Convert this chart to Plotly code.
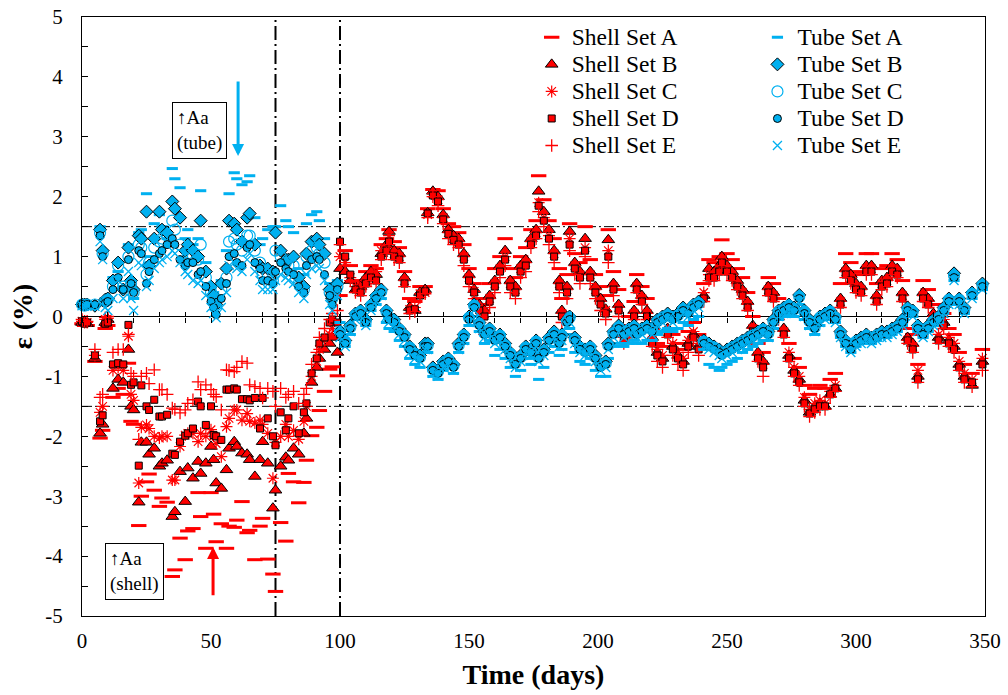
import plotly.graph_objects as go

# ---------------- data ----------------
DAYS = [
    0, 1, 2, 5, 7, 8, 9, 10, 12, 14,
    16, 18, 19, 20, 22, 23, 25, 26, 28, 30,
    31, 33, 35, 36, 38, 40, 41, 43, 45, 46,
    48, 50, 51, 52, 54, 56, 57, 59, 60, 62,
    64, 65, 67, 69, 70, 72, 74, 75, 77, 79,
    80, 82, 84, 86, 87, 89, 91, 92, 94, 96,
    97, 99, 100, 102, 104, 106, 108, 110, 112, 114,
    116, 118, 119, 121, 123, 125, 127, 129, 131, 133,
    134, 136, 138, 140, 142, 144, 146, 148, 150, 152,
    154, 156, 158, 160, 162, 164, 166, 168, 170, 172,
    174, 176, 177, 179, 181, 183, 185, 186, 188, 189,
    191, 193, 195, 197, 199, 201, 203, 204, 206, 208,
    210, 212, 214, 215, 217, 219, 221, 223, 225, 227,
    229, 231, 233, 235, 237, 239, 241, 243, 245, 247,
    248, 250, 252, 254, 256, 258, 260, 262, 264, 266,
    268, 270, 272, 274, 276, 278, 280, 282, 284, 286,
    288, 290, 292, 294, 296, 298, 300, 302, 304, 306,
    308, 310, 312, 314, 316, 318, 320, 322, 324, 326,
    328, 330, 332, 334, 336, 338, 340, 342, 345, 349,
]

SHELL_A = [
    -0.12, -0.15, -0.15, -0.75, -2.03, -1.9, -0.2, -0.15, -1.35, -1.2,
    -1.3, -0.78, -1.75, -1.8, -3.49, -3.0, -2.76, -2.63, -2.9, -3.17,
    -3.03, -3.1, -4.34, -4.23, -3.7, -4.06, -3.58, -3.54, -2.94, -3.34,
    -3.87, -2.94, -3.3, -3.76, -3.46, -3.87, -3.5, -3.52, -3.4, -3.09,
    -3.61, -3.57, -4.06, -3.5, -3.37, -4.05, -4.3, -4.59, -3.44, -3.75,
    -2.62, -2.76, -3.11, -2.77, -2.4, -1.99, -1.85, -1.57, -1.25, -0.88,
    -0.84, -0.99, 0.35, 1.1, 0.85, 0.6, 0.55, 0.75, 0.85, 0.8,
    1.2, 1.3, 1.45, 1.25, 1.15, 0.75, 0.3, 0.25, 0.5, 0.5,
    1.8, 2.12, 2.1, 1.8, 1.55, 1.5, 1.4, 1.2, 0.8, 0.55,
    0.3, 0.2, 0.55, 0.8, 1.0, 1.3, 0.8, 0.65, 1.0, 1.15,
    1.45, 1.6, 2.35, 1.95, 1.6, 1.3, 0.8, 0.3, 0.7, 1.55,
    1.05, 0.9, 1.5, 0.95, 0.7, 0.5, 0.35, 1.45, 0.75, 0.45,
    -0.15, 0.0, 0.25, 0.7, 0.5, 0.3, -0.2, -0.45, -0.5, 0.0,
    -0.3, -0.45, -0.55, -0.25, -0.1, -0.3, 0.55, 0.95, 0.9, 1.0,
    1.28, 1.05, 0.95, 0.8, 0.65, 0.4, 0.0, -0.45, -0.6, 0.65,
    0.55, 0.3, 0.0, -0.45, -0.7, -0.85, -1.15, -1.3, -1.2, -1.15,
    -1.2, -1.05, -0.95, 0.55, 1.05, 0.9, 0.75, 0.7, 1.05, 1.05,
    0.55, 0.8, 0.85, 1.05, 0.95, 0.6, -0.2, -0.3, -0.8, 0.6,
    0.45, 0.2, -0.15, 0.05, -0.2, -0.3, -0.6, -0.8, -0.95, -0.55,
]
SHELL_B = [
    -0.1, -0.1, -0.12, -0.7, -1.95, -1.8, -0.1, -0.05, -1.2, -1.05,
    -1.1, -0.55, -1.5, -1.56, -3.1, -2.1, -2.1, -2.3, -2.2, -2.5,
    -2.45, -2.4, -3.34, -3.26, -2.59, -3.09, -2.53, -2.7, -2.42, -2.62,
    -2.45, -2.17, -2.39, -2.78, -2.87, -2.56, -2.2, -2.09, -2.17, -2.28,
    -2.3, -2.39, -2.67, -2.39, -2.09, -2.45, -3.2, -2.9, -2.5, -2.35,
    -2.4, -2.2, -2.3, -1.95, -1.7, -1.1, -0.85, -0.7, -0.55, -0.45,
    -0.35, -0.6, 0.8, 0.75, 0.6, 0.45, 0.5, 0.65, 0.75, 0.7,
    1.05, 1.2, 1.42, 1.1, 1.05, 0.65, 0.15, 0.1, 0.4, 0.45,
    1.73, 2.09, 2.0, 1.7, 1.45, 1.35, 1.3, 1.05, 0.7, 0.45,
    0.2, 0.1, 0.35, 0.6, 0.85, 1.1, 0.6, 0.5, 0.85, 0.95,
    1.3, 1.45, 2.09, 1.75, 1.45, 1.1, 0.6, 0.1, 0.5, 1.42,
    0.9, 0.75, 1.3, 0.75, 0.5, 0.3, 0.12, 1.28, 0.55, 0.2,
    -0.3, -0.2, 0.1, 0.55, 0.35, 0.1, -0.35, -0.6, -0.7, -0.2,
    -0.5, -0.65, -0.75, -0.45, -0.3, -0.5, 0.35, 0.8, 0.75, 0.85,
    1.0, 0.85, 0.75, 0.6, 0.45, 0.25, -0.15, -0.6, -0.75, 0.5,
    0.4, 0.1, -0.2, -0.65, -0.9, -1.05, -1.4, -1.6, -1.5, -1.45,
    -1.5, -1.3, -1.2, 0.3, 0.8, 0.7, 0.55, 0.5, 0.85, 0.85,
    0.35, 0.6, 0.65, 0.85, 0.8, 0.4, -0.35, -0.45, -1.0, 0.4,
    0.3, 0.05, -0.35, -0.1, -0.4, -0.5, -0.8, -1.0, -1.15, -0.75,
]
SHELL_C = [
    -0.08, -0.1, -0.1, -0.65, -1.6, -1.5, -0.05, -0.03, -0.9, -0.85,
    -0.9, -0.33, -1.3, -1.4, -2.78, -1.85, -1.81, -1.87, -2.0, -2.03,
    -2.0, -2.0, -2.73, -2.73, -2.17, -1.98, -1.95, -1.95, -2.09, -1.95,
    -2.0, -1.89, -2.0, -2.12, -2.34, -1.84, -1.7, -1.56, -1.56, -1.73,
    -1.62, -1.75, -1.78, -1.73, -1.8, -1.95, -2.7, -2.1, -2.0, -1.8,
    -2.0, -1.9, -2.05, -1.75, -1.5, -1.0, -0.75, -0.55, -0.4, -0.3,
    -0.2, -0.3, 1.0, 0.9, 0.65, 0.5, 0.45, 0.6, 0.7, 0.75,
    1.1, 1.15, 1.35, 1.05, 1.0, 0.6, 0.12, 0.15, 0.38, 0.4,
    1.7, 2.05, 1.95, 1.65, 1.4, 1.3, 1.25, 1.0, 0.65, 0.42,
    0.15, 0.05, 0.3, 0.55, 0.8, 1.0, 0.55, 0.45, 0.8, 0.9,
    1.25, 1.4, 1.9, 1.65, 1.35, 1.05, 0.55, 0.05, 0.45, 1.3,
    0.85, 0.7, 1.15, 0.7, 0.45, 0.25, 0.1, 1.1, 0.5, 0.15,
    -0.35, -0.25, 0.05, 0.5, 0.3, 0.05, -0.4, -0.55, -0.65, -0.25,
    -0.45, -0.6, -0.7, -0.4, -0.25, -0.45, 0.4, 0.7, 0.7, 0.8,
    0.95, 0.8, 0.7, 0.55, 0.4, 0.2, -0.2, -0.65, -0.8, 0.45,
    0.35, 0.05, -0.25, -0.6, -0.85, -1.0, -1.35, -1.55, -1.45, -1.4,
    -1.45, -1.25, -1.15, 0.25, 0.75, 0.65, 0.5, 0.45, 0.8, 0.8,
    0.3, 0.55, 0.6, 0.8, 0.75, 0.35, -0.4, -0.5, -0.9, 0.35,
    0.25, 0.0, -0.3, -0.05, -0.35, -0.45, -0.75, -0.95, -1.05, -0.7,
]
SHELL_D = [
    -0.08, -0.12, -0.1, -0.65, -1.75, -1.65, -0.12, -0.1, -0.8, -0.78,
    -0.8, -0.14, -1.14, -1.1, -2.49, -1.15, -1.5, -1.56, -1.39, -1.67,
    -1.67, -1.64, -2.29, -2.31, -2.09, -1.99, -1.95, -1.87, -1.42, -1.5,
    -1.81, -1.5, -1.98, -2.0, -2.06, -1.22, -1.22, -1.2, -1.22, -1.38,
    -1.38, -1.4, -1.36, -1.87, -1.36, -1.7, -2.0, -2.15, -1.6, -1.9,
    -1.7, -1.5, -1.95, -1.6, -1.45, -0.95, -0.7, -0.45, -0.35, -0.1,
    -0.05, -0.1, 1.25, 1.0, 0.7, 0.45, 0.4, 0.55, 0.65, 0.6,
    1.0, 1.1, 1.25, 1.0, 0.95, 0.55, 0.1, 0.12, 0.35, 0.42,
    1.72, 2.02, 1.92, 1.62, 1.38, 1.28, 1.2, 0.95, 0.6, 0.4,
    0.1, 0.0, 0.25, 0.5, 0.75, 0.95, 0.5, 0.4, 0.75, 0.85,
    1.2, 1.35, 1.85, 1.6, 1.3, 1.0, 0.5, 0.0, 0.4, 1.2,
    0.8, 0.65, 1.1, 0.65, 0.4, 0.2, 0.05, 1.0, 0.45, 0.1,
    -0.4, -0.3, 0.0, 0.45, 0.25, 0.0, -0.45, -0.65, -0.75, -0.3,
    -0.55, -0.7, -0.8, -0.5, -0.35, -0.55, 0.3, 0.65, 0.65, 0.75,
    0.9, 0.75, 0.65, 0.5, 0.35, 0.15, -0.25, -0.7, -0.85, 0.4,
    0.3, 0.0, -0.3, -0.7, -0.95, -1.1, -1.45, -1.62, -1.55, -1.5,
    -1.5, -1.3, -1.2, 0.2, 0.7, 0.6, 0.45, 0.4, 0.75, 0.75,
    0.25, 0.5, 0.55, 0.75, 0.7, 0.3, -0.4, -0.55, -1.05, 0.3,
    0.2, -0.05, -0.4, -0.15, -0.45, -0.55, -0.85, -1.05, -1.1, -0.8,
]
SHELL_E = [
    -0.05, -0.08, -0.08, -0.55, -1.35, -1.3, -0.02, 0.0, -0.6, -0.55,
    -0.55, -0.3, -0.95, -1.0, -2.05, -1.0, -0.95, -1.12, -0.89, -1.22,
    -1.22, -1.3, -1.53, -1.55, -1.61, -1.56, -1.45, -1.39, -1.09, -1.22,
    -1.14, -1.22, -1.3, -1.34, -1.56, -0.89, -0.9, -0.92, -0.85, -0.75,
    -0.78, -1.14, -1.17, -1.2, -1.36, -1.2, -1.25, -1.5, -1.2, -1.35,
    -1.3, -1.25, -1.45, -1.3, -1.2, -0.8, -0.6, -0.35, -0.2, -0.05,
    0.05, 0.1, 1.2, 0.85, 0.6, 0.4, 0.35, 0.5, 0.6, 0.55,
    0.95, 1.05, 1.2, 0.95, 0.9, 0.5, 0.05, 0.08, 0.32, 0.38,
    1.65, 2.0, 1.85, 1.55, 1.3, 1.2, 1.15, 0.85, 0.5, 0.3,
    0.0, -0.3, 0.15, 0.4, 0.65, 0.85, 0.4, 0.3, 0.65, 0.75,
    1.15, 1.3, 1.75, 1.5, 1.2, 0.9, 0.4, -0.1, 0.3, 1.1,
    0.7, 0.55, 1.0, 0.55, 0.3, 0.1, -0.05, 0.9, 0.35, 0.0,
    -0.45, -0.35, -0.05, 0.4, 0.2, -0.05, -0.5, -0.75, -0.85, -0.35,
    -0.65, -0.8, -0.9, -0.6, -0.4, -0.65, 0.25, 0.6, 0.6, 0.7,
    0.85, 0.7, 0.6, 0.45, 0.3, 0.1, -0.3, -0.75, -1.0, 0.35,
    0.25, -0.05, -0.35, -0.75, -1.0, -1.15, -1.5, -1.67, -1.6, -1.55,
    -1.55, -1.35, -1.25, 0.15, 0.65, 0.55, 0.4, 0.35, 0.7, 0.7,
    0.2, 0.45, 0.5, 0.7, 0.65, 0.25, -0.45, -0.6, -1.1, 0.25,
    0.15, -0.1, -0.45, -0.2, -0.5, -0.6, -0.9, -1.1, -1.17, -0.9,
]

TUBE_A = [
    0.2, 0.2, 0.22, 0.2, 1.5, 1.1, 0.3, 0.3, 0.65, 0.75,
    0.5, 1.2, 0.6, 0.3, 1.4, 1.45, 2.05, 1.0, 1.55, 1.7,
    1.5, 1.3, 2.47, 2.3, 2.15, 1.3, 1.45, 1.2, 1.3, 2.1,
    0.9, 0.5, 0.4, 0.3, 0.6, 1.1, 2.05, 2.4, 2.3, 2.2,
    2.25, 2.35, 1.65, 1.2, 1.3, 1.45, 1.5, 1.5, 1.85, 1.6,
    1.5, 1.4, 0.8, 0.7, 1.55, 1.7, 1.75, 1.6, 1.3, 0.55,
    0.45, 0.6, -0.1, -0.5, -0.3, -0.05, 0.0, -0.15, 0.1, 0.2,
    0.3, -0.1, -0.2, -0.25, -0.4, -0.5, -0.7, -0.8, -0.85, -0.6,
    -0.6, -1.0, -1.05, -0.9, -0.85, -0.95, -0.6, -0.45, -0.15, 0.0,
    -0.25, -0.45, -0.4, -0.65, -0.55, -0.7, -0.85, -1.0, -0.9, -0.7,
    -0.8, -0.7, -1.05, -0.85, -0.6, -0.5, -0.65, -0.55, -0.3, -0.2,
    -0.6, -0.75, -0.8, -0.7, -0.9, -1.0, -1.0, -0.7, -0.5, -0.45,
    -0.5, -0.45, -0.4, -0.45, -0.45, -0.4, -0.4, -0.3, -0.25, -0.2,
    -0.25, -0.2, -0.1, -0.15, -0.05, 0.0, -0.55, -0.8, -0.85, -0.9,
    -0.85, -0.8, -0.75, -0.7, -0.6, -0.55, -0.5, -0.45, -0.4, -0.4,
    -0.2, -0.05, 0.0, 0.05, 0.0, 0.2, -0.05, -0.2, -0.3, -0.15,
    -0.05, 0.0, -0.1, -0.35, -0.5, -0.6, -0.5, -0.45, -0.4, -0.45,
    -0.4, -0.35, -0.35, -0.3, -0.25, -0.15, 0.05, 0.0, -0.25, -0.35,
    -0.25, -0.15, -0.1, 0.05, 0.2, 0.6, 0.2, 0.05, 0.3, 0.45,
]
TUBE_B = [
    0.2, 0.2, 0.2, 0.18, 1.45, 1.1, 0.28, 0.3, 0.6, 0.9,
    0.45, 1.15, 0.6, 0.45, 1.35, 1.3, 1.75, 0.85, 1.3, 1.75,
    1.45, 1.4, 1.92, 1.8, 1.65, 1.1, 1.2, 1.1, 1.0, 1.6,
    0.75, 0.5, 0.35, 0.2, 0.55, 0.8, 1.6, 1.55, 1.45, 1.25,
    1.65, 1.72, 1.2, 0.85, 0.8, 0.8, 0.75, 1.4, 1.1, 0.95,
    0.95, 1.0, 0.65, 0.5, 1.05, 1.25, 1.3, 1.2, 1.05, 0.45,
    0.3, 0.55, -0.25, -0.4, -0.15, 0.05, 0.1, -0.05, 0.2, 0.35,
    0.45, 0.1, 0.0, -0.05, -0.2, -0.3, -0.5, -0.6, -0.65, -0.45,
    -0.45, -0.85, -0.9, -0.75, -0.7, -0.8, -0.45, -0.3, 0.0, 0.2,
    -0.1, -0.25, -0.2, -0.35, -0.3, -0.45, -0.6, -0.75, -0.65, -0.5,
    -0.55, -0.4, -0.65, -0.55, -0.35, -0.25, -0.4, -0.3, -0.05, 0.0,
    -0.35, -0.5, -0.55, -0.5, -0.65, -0.8, -0.75, -0.45, -0.25, -0.15,
    -0.25, -0.2, -0.15, -0.25, -0.2, -0.15, -0.2, -0.05, 0.0, 0.05,
    0.0, 0.05, 0.15, 0.1, 0.2, 0.25, -0.4, -0.45, -0.5, -0.55,
    -0.6, -0.55, -0.5, -0.45, -0.4, -0.35, -0.3, -0.25, -0.2, -0.25,
    -0.05, 0.1, 0.15, 0.2, 0.15, 0.36, 0.1, -0.05, -0.15, 0.0,
    0.05, 0.1, 0.0, -0.25, -0.4, -0.5, -0.4, -0.35, -0.3, -0.35,
    -0.3, -0.25, -0.25, -0.2, -0.15, -0.05, 0.15, 0.1, -0.15, -0.25,
    -0.15, -0.05, 0.0, 0.15, 0.3, 0.72, 0.3, 0.15, 0.4, 0.55,
]
TUBE_C = [
    0.2, 0.18, 0.2, 0.2, 1.4, 1.05, 0.25, 0.28, 0.5, 0.85,
    0.5, 1.0, 0.55, 0.4, 1.2, 1.15, 0.7, 0.9, 1.15, 1.25,
    1.3, 1.35, 1.6, 1.45, 1.2, 0.9, 1.05, 1.0, 0.95, 1.2,
    0.65, 0.4, 0.3, 0.15, 0.45, 0.65, 1.25, 1.3, 1.2, 1.1,
    1.35, 1.35, 1.1, 0.9, 0.7, 0.7, 0.6, 1.1, 1.0, 0.9,
    0.85, 0.85, 0.55, 0.45, 1.0, 1.1, 1.15, 1.05, 0.9, 0.4,
    0.3, 0.5, -0.25, -0.42, -0.18, 0.03, 0.08, -0.08, 0.18, 0.32,
    0.42, 0.08, -0.02, -0.08, -0.22, -0.32, -0.52, -0.62, -0.68, -0.48,
    -0.48, -0.88, -0.92, -0.78, -0.72, -0.82, -0.48, -0.32, -0.02, 0.18,
    -0.12, -0.28, -0.22, -0.38, -0.32, -0.48, -0.62, -0.78, -0.68, -0.52,
    -0.58, -0.42, -0.68, -0.58, -0.38, -0.28, -0.42, -0.32, -0.08, -0.02,
    -0.38, -0.52, -0.58, -0.52, -0.68, -0.82, -0.78, -0.48, -0.28, -0.18,
    -0.28, -0.22, -0.18, -0.28, -0.22, -0.18, -0.22, -0.08, -0.02, 0.02,
    -0.02, 0.02, 0.12, 0.08, 0.18, 0.22, -0.42, -0.48, -0.52, -0.58,
    -0.62, -0.58, -0.52, -0.48, -0.42, -0.38, -0.32, -0.28, -0.22, -0.28,
    -0.08, 0.08, 0.12, 0.18, 0.12, 0.33, 0.08, -0.08, -0.18, -0.02,
    0.02, 0.08, -0.02, -0.28, -0.42, -0.52, -0.42, -0.38, -0.32, -0.38,
    -0.32, -0.28, -0.28, -0.22, -0.18, -0.08, 0.12, 0.08, -0.18, -0.28,
    -0.18, -0.08, -0.02, 0.12, 0.28, 0.68, 0.28, 0.12, 0.38, 0.52,
]
TUBE_D = [
    0.2, 0.18, 0.2, 0.2, 1.35, 1.0, 0.22, 0.25, 0.45, 0.65,
    0.45, 0.95, 0.55, 0.4, 1.1, 1.05, 0.55, 0.75, 0.95, 1.05,
    1.1, 1.2, 1.3, 1.2, 0.95, 0.85, 0.9, 0.9, 0.7, 0.75,
    0.5, 0.25, 0.15, 0.03, 0.3, 0.55, 1.0, 1.05, 0.9, 0.85,
    1.15, 1.2, 0.9, 0.8, 0.6, 0.6, 0.55, 0.75, 0.9, 0.8,
    0.75, 0.7, 0.5, 0.4, 0.85, 0.95, 1.0, 0.95, 0.7, 0.35,
    0.2, 0.45, -0.3, -0.45, -0.2, 0.0, 0.05, -0.1, 0.15, 0.3,
    0.4, 0.05, -0.05, -0.1, -0.25, -0.35, -0.55, -0.65, -0.7, -0.5,
    -0.5, -0.9, -0.95, -0.8, -0.75, -0.85, -0.5, -0.35, -0.05, 0.15,
    -0.15, -0.3, -0.25, -0.4, -0.35, -0.5, -0.65, -0.8, -0.7, -0.55,
    -0.6, -0.45, -0.7, -0.6, -0.4, -0.3, -0.45, -0.35, -0.1, -0.05,
    -0.4, -0.55, -0.6, -0.55, -0.7, -0.85, -0.8, -0.5, -0.3, -0.2,
    -0.3, -0.25, -0.2, -0.3, -0.25, -0.2, -0.25, -0.1, -0.05, 0.0,
    -0.05, 0.0, 0.1, 0.05, 0.15, 0.2, -0.45, -0.5, -0.55, -0.6,
    -0.65, -0.6, -0.55, -0.5, -0.45, -0.4, -0.35, -0.3, -0.25, -0.3,
    -0.1, 0.05, 0.1, 0.15, 0.1, 0.3, 0.05, -0.1, -0.2, -0.05,
    0.0, 0.05, -0.05, -0.3, -0.45, -0.55, -0.45, -0.4, -0.35, -0.4,
    -0.35, -0.3, -0.3, -0.25, -0.2, -0.1, 0.1, 0.05, -0.2, -0.3,
    -0.2, -0.1, -0.05, 0.1, 0.25, 0.65, 0.25, 0.1, 0.35, 0.5,
]
TUBE_E = [
    0.18, 0.17, 0.18, 0.17, 1.25, 0.95, 0.15, 0.1, 0.3, 0.6,
    0.3, 0.75, 0.3, 0.1, 0.9, 0.85, 0.5, 0.6, 0.8, 0.9,
    0.95, 1.0, 1.1, 1.05, 0.9, 0.75, 0.7, 0.6, 0.55, 0.6,
    0.35, 0.15, 0.05, -0.02, 0.15, 0.4, 0.85, 0.9, 0.8, 0.75,
    0.95, 1.05, 0.75, 0.6, 0.45, 0.45, 0.45, 0.6, 0.7, 0.65,
    0.6, 0.55, 0.4, 0.3, 0.7, 0.8, 0.85, 0.8, 0.6, 0.2,
    0.1, 0.35, -0.35, -0.5, -0.25, -0.05, 0.0, -0.15, 0.1, 0.25,
    0.35, 0.0, -0.1, -0.15, -0.3, -0.4, -0.6, -0.7, -0.75, -0.55,
    -0.55, -0.95, -1.0, -0.85, -0.8, -0.9, -0.55, -0.4, -0.1, 0.1,
    -0.2, -0.35, -0.3, -0.45, -0.4, -0.55, -0.7, -0.85, -0.75, -0.6,
    -0.65, -0.5, -0.75, -0.65, -0.45, -0.35, -0.5, -0.4, -0.15, -0.1,
    -0.45, -0.6, -0.65, -0.6, -0.75, -0.9, -0.85, -0.55, -0.35, -0.25,
    -0.35, -0.3, -0.25, -0.35, -0.3, -0.25, -0.3, -0.15, -0.1, -0.05,
    -0.1, -0.05, 0.05, 0.0, 0.1, 0.15, -0.5, -0.55, -0.6, -0.65,
    -0.7, -0.65, -0.6, -0.55, -0.5, -0.45, -0.4, -0.35, -0.3, -0.35,
    -0.15, 0.0, 0.05, 0.1, 0.05, 0.25, 0.0, -0.15, -0.25, -0.1,
    -0.05, 0.0, -0.1, -0.35, -0.5, -0.6, -0.5, -0.45, -0.4, -0.45,
    -0.4, -0.35, -0.35, -0.3, -0.25, -0.15, 0.05, 0.0, -0.25, -0.35,
    -0.25, -0.15, -0.1, 0.05, 0.2, 0.6, 0.2, 0.05, 0.3, 0.45,
]

SERIES_NAMES = ["Shell Set A", "Shell Set B", "Shell Set C", "Shell Set D", "Shell Set E",
                "Tube Set A", "Tube Set B", "Tube Set C", "Tube Set D", "Tube Set E"]
Y_TICK_VALUES = [5, 4, 3, 2, 1, 0, -1, -2, -3, -4, -5]
Y_TICK_LABELS = ["5", "4", "3", "2", "1", "0", "-1", "-2", "-3", "-4", "-5"]
X_TICK_VALUES = [0, 50, 100, 150, 200, 250, 300, 350]
X_TICK_LABELS = ["0", "50", "100", "150", "200", "250", "300", "350"]
H_REF = [1.5, -1.5]          # thresholds (dash-dot)
V_REF = [75, 100]            # phase boundaries (days)

# ---------------- styling ----------------
RED = "#FF0000"
BLUE = "#00B0F0"
FONT = "Liberation Serif"

styles = [
    dict(symbol="line-ew", size=11, line=dict(color=RED, width=3), color=RED),
    dict(symbol="triangle-up", size=11, color=RED, line=dict(color="black", width=1)),
    dict(symbol="asterisk-open", size=10, color=RED, line=dict(color=RED, width=1.2)),
    dict(symbol="square", size=7, color=RED, line=dict(color="black", width=1)),
    dict(symbol="cross-thin-open", size=9, color=RED, line=dict(color=RED, width=1.3)),
    dict(symbol="line-ew", size=8, line=dict(color=BLUE, width=3), color=BLUE),
    dict(symbol="diamond", size=10, color=BLUE, line=dict(color="black", width=1)),
    dict(symbol="circle-open", size=11, color=BLUE, line=dict(color=BLUE, width=1.2)),
    dict(symbol="circle", size=8, color=BLUE, line=dict(color="black", width=1)),
    dict(symbol="x-thin-open", size=9, color=BLUE, line=dict(color=BLUE, width=1.3)),
]
values = [SHELL_A, SHELL_B, SHELL_C, SHELL_D, SHELL_E,
          TUBE_A, TUBE_B, TUBE_C, TUBE_D, TUBE_E]

fig = go.Figure()
for i, (name, vals, st) in enumerate(zip(SERIES_NAMES, values, styles)):
    n = min(len(DAYS), len(vals))
    fig.add_trace(go.Scatter(
        x=DAYS[:n], y=vals[:n], mode="markers",
        name='<span style="font-size:23.5px">' + name + '</span>',
        marker=st, cliponaxis=False,
        legend="legend" if i < 5 else "legend2",
    ))

# invisible helpers so the tick-only axes on the zero line are drawn
for ax in ["x2", "x3"]:
    fig.add_trace(go.Scatter(x=[DAYS[0]], y=[0], xaxis=ax, mode="markers",
                             marker=dict(opacity=0), showlegend=False, hoverinfo="skip"))

for yv in H_REF:
    fig.add_shape(type="line", xref="x", yref="y", x0=0, x1=350, y0=yv, y1=yv,
                  line=dict(color="black", width=1, dash="10px,3px,2px,3px"), layer="below")
for xv in V_REF:
    fig.add_shape(type="line", xref="x", yref="y", x0=xv, x1=xv, y0=-5, y1=5,
                  line=dict(color="black", width=2, dash="14px,4px,2px,4px"), layer="below")

fig.add_annotation(x=45.5, y=3.1, xref="x", yref="y", text="↑Aa<br>(tube)", showarrow=False,
                   align="left", font=dict(family=FONT, size=19, color="black"),
                   bordercolor="black", borderwidth=1, borderpad=4, bgcolor="white")
fig.add_annotation(x=20.5, y=-4.26, xref="x", yref="y", text="↑Aa<br>(shell)", showarrow=False,
                   align="left", font=dict(family=FONT, size=19, color="black"),
                   bordercolor="black", borderwidth=1, borderpad=4, bgcolor="white")
fig.add_annotation(x=60.5, y=2.68, ax=60.5, ay=3.95, xref="x", yref="y", axref="x", ayref="y",
                   text="", showarrow=True, arrowhead=2, arrowsize=0.8, arrowwidth=3,
                   arrowcolor=BLUE)
fig.add_annotation(x=50.8, y=-3.85, ax=50.8, ay=-4.68, xref="x", yref="y", axref="x", ayref="y",
                   text="", showarrow=True, arrowhead=2, arrowsize=0.8, arrowwidth=3,
                   arrowcolor=RED)

legend_common = dict(font=dict(family=FONT, size=18.5, color="black"), bgcolor="rgba(0,0,0,0)",
                     borderwidth=0, yanchor="top", xanchor="left", tracegroupgap=0)

fig.update_layout(
    width=1008, height=695,
    margin=dict(l=82, r=23, t=17, b=79, autoexpand=False),
    paper_bgcolor="white", plot_bgcolor="white",
    font=dict(family=FONT, color="black"),
    legend=dict(x=0.498, y=0.997, **legend_common),
    legend2=dict(x=0.748, y=0.997, **legend_common),
    xaxis=dict(range=[0, 350], tickvals=X_TICK_VALUES, ticktext=X_TICK_LABELS, automargin=False,
               ticks="", showline=True, linecolor="black", linewidth=1, mirror=True,
               showgrid=False, zeroline=False, tickfont=dict(family=FONT, size=21),
               ticklabelstandoff=6,
               title=dict(text="<b>Time (days)</b>", font=dict(family=FONT, size=28), standoff=12)),
    xaxis2=dict(range=[0, 350], overlaying="x", anchor="free", position=0.5, dtick=10, tick0=0,
                ticks="outside", ticklen=5, tickcolor="black", showticklabels=False,
                showline=False, showgrid=False, zeroline=False, automargin=False),
    xaxis3=dict(range=[0, 350], overlaying="x", anchor="free", position=0.5, dtick=10, tick0=0,
                ticks="inside", ticklen=5, tickcolor="black", showticklabels=False,
                showline=False, showgrid=False, zeroline=False, automargin=False),
    yaxis=dict(range=[-5, 5], tickvals=Y_TICK_VALUES, ticktext=Y_TICK_LABELS, automargin=False,
               ticks="inside", ticklen=6, tickcolor="black",
               minor=dict(dtick=0.5, ticks="inside", ticklen=6, tickcolor="black"),
               showline=True, linecolor="black", linewidth=1, mirror=True,
               showgrid=False, zeroline=True, zerolinecolor="black", zerolinewidth=1,
               tickfont=dict(family=FONT, size=21), ticklabelstandoff=14,
               title=dict(text="<b>ε (%)</b>", font=dict(family=FONT, size=28), standoff=4)),
)

fig.write_html("out.html")
